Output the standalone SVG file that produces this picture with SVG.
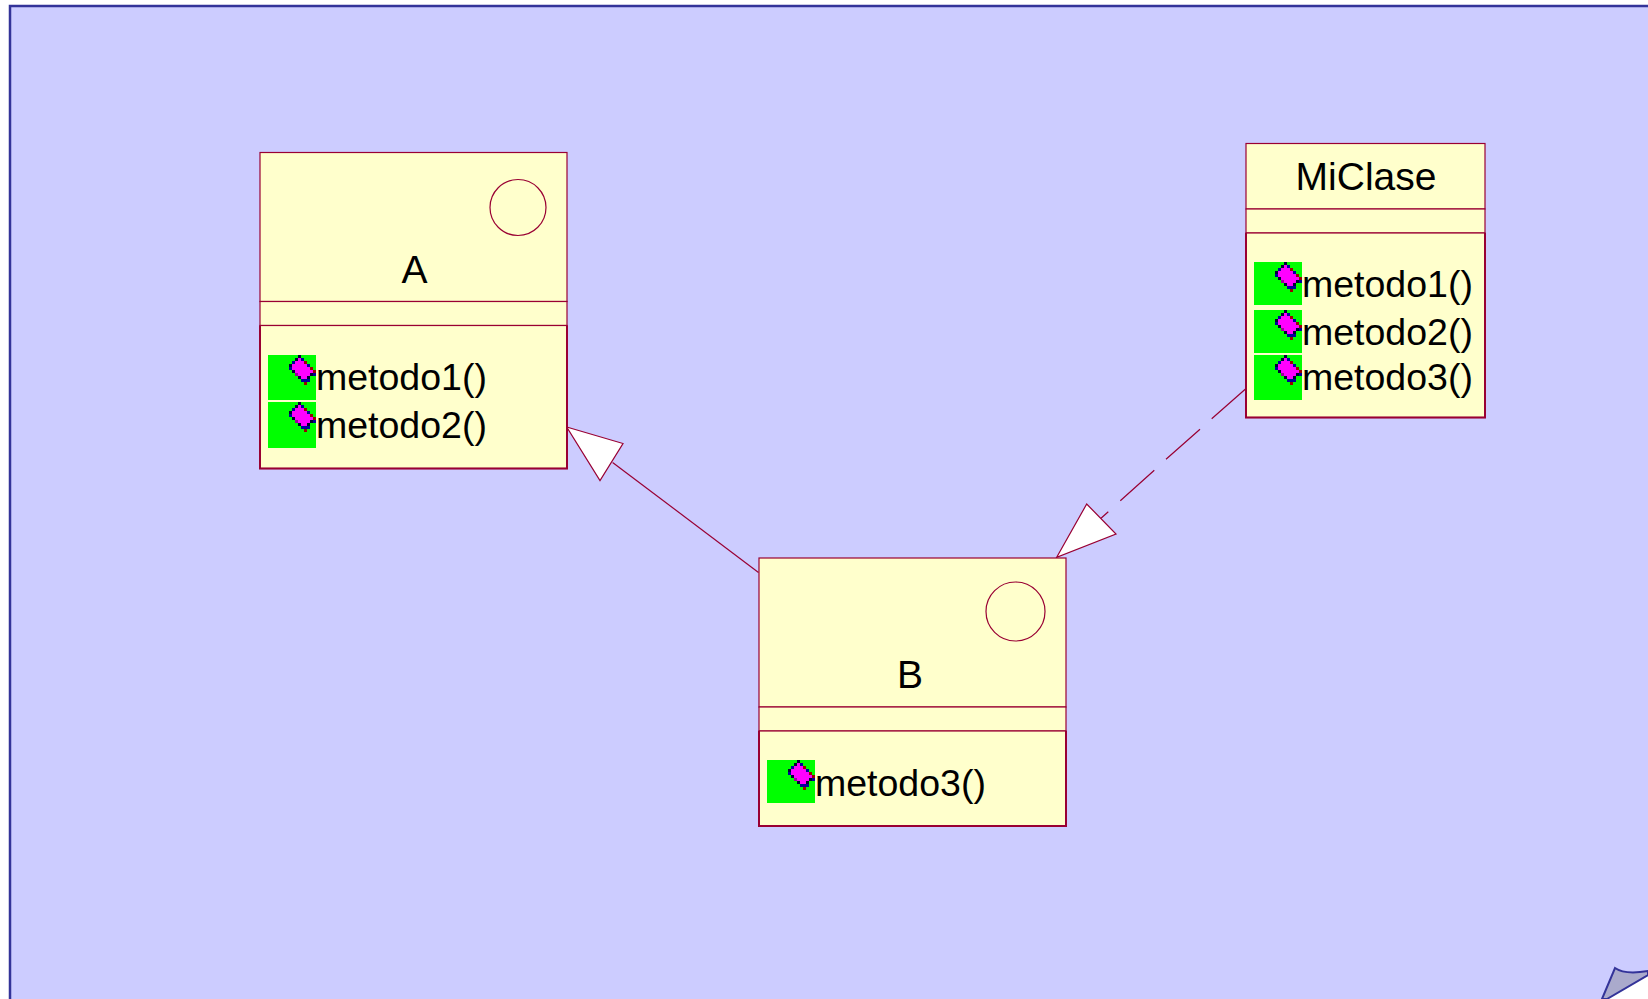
<svg xmlns="http://www.w3.org/2000/svg" xmlns:xlink="http://www.w3.org/1999/xlink" width="1648" height="999" viewBox="0 0 1648 999">
<style>
.box{fill:#ffffcc;stroke:#990033;stroke-width:1.2}
.edge{fill:none;stroke:#990033;stroke-width:2}
.line{fill:none;stroke:#990033;stroke-width:1.2}
.head{fill:#ffffff;stroke:#990033;stroke-width:1.2}
.green{fill:#00ff00}
text{font-family:"Liberation Sans",Arial,sans-serif;font-size:37.5px;fill:#000000}
.title{text-anchor:middle;font-size:39px}
.k{fill:#000033}.n{fill:#000099}.r{fill:#990000}.m{fill:#ff00ff}.p{fill:#990099}
</style>
<defs>
<g id="icon" shape-rendering="crispEdges">
<path class="m" d="M30 3h3v3h3v3h3v3h3v3h3v6h-3v3h-9v-3h-3v-3h-3v-3h-3v-6h3v-3h3z"/>
<path class="k" d="M30 0h3v3h-3zM27 3h3v3h-3zM21 9h3v3h-3zM24 15h3v3h-3zM30 21h3v3h-3zM39 21h3v3h-3zM42 18h3v3h-3z"/>
<path class="n" d="M33 3h3v3h-3zM24 6h3v3h-3zM39 9h3v3h-3zM21 12h3v3h-3zM45 18h3v3h-3zM33 24h9v3h-9z"/>
<path class="r" d="M36 6h3v3h-3zM42 12h3v3h-3zM45 15h3v3h-3zM36 27h3v3h-3z"/>
<path class="p" d="M27 18h3v3h-3z"/>
</g>
</defs>
<rect width="1648" height="999" fill="#ffffff"/>
<path id="page" d="M10 6H1648V975L1606 999H10Z" fill="#ccccff"/>
<path d="M1648 6H10V999" fill="none" stroke="#333399" stroke-width="2.5"/>
<path id="curl" d="M1602 999L1615 968C1622 973 1636 973 1648 971V975L1607 999Z" fill="#aaaacc" stroke="#333399" stroke-width="2"/>
<g id="connectors">
<path class="line" d="M758.5 572.5L612.6 462.4"/>
<path class="head" d="M566.7 427L623 443.5L600 480.5Z"/>
<path class="line" d="M1245.5 389L1211.7 418.7M1200 429.3L1166 459.3M1154.3 470.3L1120.3 500.7M1108.3 511.7L1101 518.3"/>
<path class="head" d="M1056.7 557.3L1086.7 504L1116 534Z"/>
</g>
<g id="node-A">
<rect class="box" x="260" y="152.5" width="307" height="149"/>
<rect class="box" x="260" y="301.5" width="307" height="24"/>
<rect class="box" x="260" y="325.5" width="307" height="143"/>
<path class="edge" d="M260 325.500V468.500H567V325.500"/>
<circle class="line" cx="518" cy="207.5" r="28"/>
<text class="title" x="414.5" y="283">A</text>
<rect class="green" x="268" y="355" width="48" height="45"/>
<rect class="green" x="268" y="402" width="48" height="46"/>
<use xlink:href="#icon" href="#icon" x="268" y="355"/>
<use xlink:href="#icon" href="#icon" x="268" y="402"/>
<text x="316" y="390">metodo1()</text>
<text x="316" y="438">metodo2()</text>
</g>
<g id="node-B">
<rect class="box" x="759" y="558" width="307" height="149"/>
<rect class="box" x="759" y="707" width="307" height="24"/>
<rect class="box" x="759" y="731" width="307" height="95"/>
<path class="edge" d="M759 731V826H1066V731"/>
<circle class="line" cx="1015.500" cy="611.500" r="29.500"/>
<text class="title" x="910" y="687.500">B</text>
<rect class="green" x="767" y="760" width="48" height="43"/>
<use xlink:href="#icon" href="#icon" x="767" y="760"/>
<text x="815" y="796">metodo3()</text>
</g>
<g id="node-MiClase">
<rect class="box" x="1246" y="143.500" width="239" height="65.500"/>
<rect class="box" x="1246" y="209" width="239" height="24"/>
<rect class="box" x="1246" y="233" width="239" height="184.500"/>
<path class="edge" d="M1246 233V417.500H1485V233"/>
<text class="title" x="1366" y="189.500">MiClase</text>
<rect class="green" x="1254" y="262" width="48" height="43"/>
<rect class="green" x="1254" y="310" width="48" height="43"/>
<rect class="green" x="1254" y="355" width="48" height="45"/>
<use xlink:href="#icon" href="#icon" x="1254" y="262"/>
<use xlink:href="#icon" href="#icon" x="1254" y="310"/>
<use xlink:href="#icon" href="#icon" x="1254" y="355"/>
<text x="1302" y="297">metodo1()</text>
<text x="1302" y="344.500">metodo2()</text>
<text x="1302" y="390">metodo3()</text>
</g>
</svg>
